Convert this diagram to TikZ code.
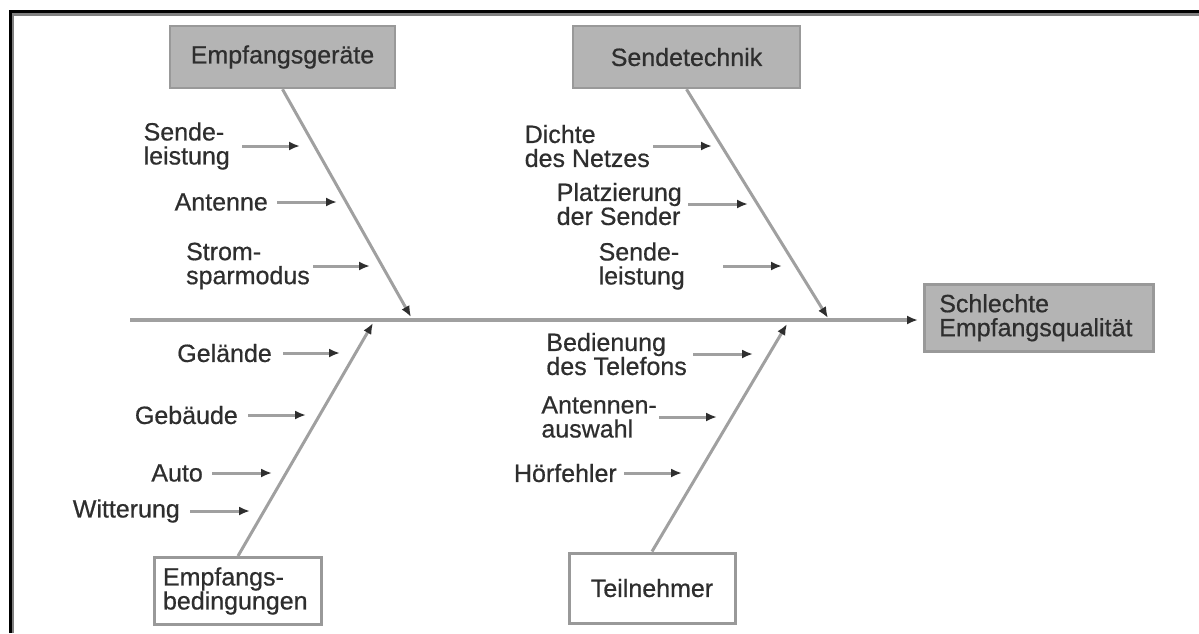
\documentclass[tikz,border=0pt]{standalone}
\usepackage{fontspec}
\setmainfont{Liberation Sans}[FakeBold=0.6]
\usetikzlibrary{arrows.meta}
\definecolor{bonegray}{HTML}{A0A0A0}
\definecolor{boxfill}{HTML}{B4B4B4}
\definecolor{boxline}{HTML}{999999}
\definecolor{tipgray}{HTML}{2E2E2E}
\definecolor{txt}{HTML}{2E2E2E}
\tikzset{
  lbl/.style={inner sep=0pt, anchor=east, align=left, text=txt,
    font=\fontsize{25}{24}\selectfont},
  topbox/.style={draw=boxline, line width=2.5pt, fill=boxfill, text=txt,
    font=\fontsize{25}{24}\selectfont},
  botbox/.style={draw=boxline, line width=3pt, fill=white, text=txt,
    font=\fontsize{25}{24}\selectfont},
  tip/.style={-{Latex[length=11pt,width=9pt,color=tipgray]}},
  spine/.style={draw=bonegray, line width=4.5pt, tip},
  bone/.style={draw=bonegray, line width=3pt, tip},
  twig/.style={draw=bonegray, line width=3pt, tip},
}
\begin{document}
\begin{tikzpicture}[x=1pt,y=-1pt]
\useasboundingbox (0,0) rectangle (1199,633);

% frame (top and left edge)
\draw[black, line width=3pt] (10.3,633) -- (10.3,11.7) -- (1199,11.7);
\draw[gray, line width=2.5pt] (12.8,633) -- (12.8,14.5) -- (1199,14.5);

% category boxes
\node[topbox, minimum width=225pt, minimum height=62pt] (ea) at (282.5,57) {Empfangsgeräte};
\node[topbox, minimum width=227pt, minimum height=62pt] (st) at (686.5,57) {Sendetechnik};
\node[botbox, anchor=north west, minimum width=167pt, minimum height=67pt,
      text width=150pt, inner xsep=8pt, align=left] (eb) at (153,556)
      {Empfangs-\\bedingungen};
\node[botbox, minimum width=166pt, minimum height=70pt] (tn) at (652,588) {Teilnehmer};

% effect box
\node[topbox, anchor=north west, minimum width=229pt, minimum height=67pt,
      text width=199pt, inner xsep=13pt, align=left] (sq) at (923,283)
      {Schlechte\\Empfangsqualität};

% spine
\coordinate (sp0) at (130,320);
\draw[spine, shorten >=5pt] (sp0) -- (sp0 -| sq.west);

% main bones
\coordinate (t1) at (411,317);
\coordinate (t2) at (828,318);
\coordinate (t3) at (373,323);
\coordinate (t4) at (787,324);
\draw[bone] (ea.south) -- (t1);
\draw[bone] (st.south) -- (t2);
\draw[bone] (eb.north) -- (t3);
\draw[bone] (tn.north) -- (t4);

% causes: Empfangsgeräte
\node[lbl] (a1) at (230,146) {Sende-\\leistung};
\node[lbl] (a2) at (268,202) {Antenne};
\node[lbl] (a3) at (310,266) {Strom-\\sparmodus};
\coordinate (e1) at (300,146);
\coordinate (e2) at (337,202);
\coordinate (e3) at (370,266);
\draw[twig, shorten <=12pt] (a1.east) -- (e1);
\draw[twig, shorten <=9pt] (a2.east) -- (e2);
\draw[twig, shorten <=3pt] (a3.east) -- (e3);

% causes: Sendetechnik
\node[lbl] (b1) at (650,146) {Dichte\\des Netzes};
\node[lbl] (b2) at (682,204) {Platzierung\\der Sender};
\node[lbl] (b3) at (685,266) {Sende-\\leistung};
\coordinate (f1) at (712,146);
\coordinate (f2) at (748,204);
\coordinate (f3) at (782,266);
\draw[twig, shorten <=3pt] (b1.east) -- (f1);
\draw[twig, shorten <=6pt] (b2.east) -- (f2);
\draw[twig, shorten <=38pt] (b3.east) -- (f3);

% causes: Empfangsbedingungen
\node[lbl] (c1) at (272,353) {Gelände};
\node[lbl] (c2) at (238,415) {Gebäude};
\node[lbl] (c3) at (203,473) {Auto};
\node[lbl] (c4) at (180,511) {Witterung};
\coordinate (g1) at (340,353);
\coordinate (g2) at (306,415);
\coordinate (g3) at (272,473);
\coordinate (g4) at (250,511);
\draw[twig, shorten <=11pt] (c1.east) -- (g1);
\draw[twig, shorten <=10pt] (c2.east) -- (g2);
\draw[twig, shorten <=9pt] (c3.east) -- (g3);
\draw[twig, shorten <=10pt] (c4.east) -- (g4);

% causes: Teilnehmer
\node[lbl] (d1) at (687,354) {Bedienung\\des Telefons};
\node[lbl] (d2) at (657,417) {Antennen-\\auswahl};
\node[lbl] (d3) at (617,473) {Hörfehler};
\coordinate (h1) at (753,354);
\coordinate (h2) at (717,417);
\coordinate (h3) at (682,473);
\draw[twig, shorten <=6pt] (d1.east) -- (h1);
\draw[twig, shorten <=2pt] (d2.east) -- (h2);
\draw[twig, shorten <=7pt] (d3.east) -- (h3);
\end{tikzpicture}
\end{document}
